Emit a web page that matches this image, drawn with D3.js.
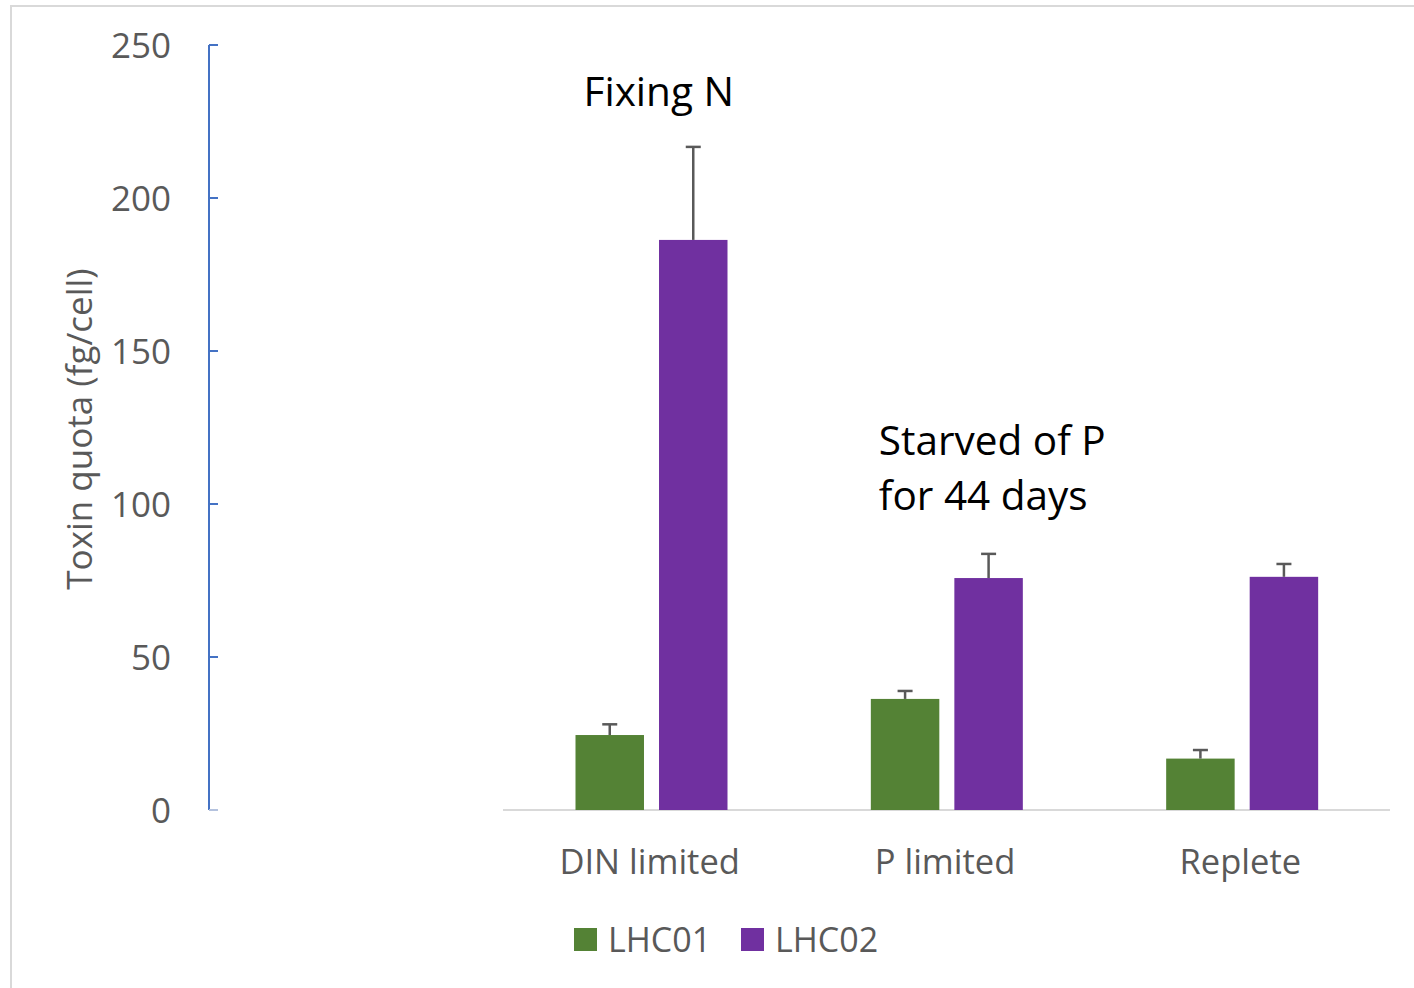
<!DOCTYPE html>
<html>
<head>
<meta charset="utf-8">
<script src="https://cdn.jsdelivr.net/npm/d3@7"></script>
<style>
  html, body { margin: 0; padding: 0; background: #fff; }
  svg { display: block; }
  text { font-family: "Open Sans", "Liberation Sans", sans-serif; }
</style>
</head>
<body>
<svg id="chart" width="1414" height="988"></svg>
<script>
// ---- data ----
const categories = ["DIN limited", "P limited", "Replete"];
const seriesNames = ["LHC01", "LHC02"];
const lhc01 = [24.5, 36.3, 16.8];
const lhc02 = [186.3, 75.8, 76.2];
const lhc01Err = [3.5, 2.6, 2.8];
const lhc02Err = [30.4, 7.9, 4.2];
const yTicks = [0, 50, 100, 150, 200, 250];
const yLabel = "Toxin quota (fg/cell)";
const annotations = [
  { lines: ["Fixing N"], category: "DIN limited", value: 230 },
  { lines: ["Starved of P", "for 44 days"], category: "P limited", value: 116 }
];

const colors = { LHC01: "#548235", LHC02: "#7030A0" };
const values = { LHC01: lhc01, LHC02: lhc02 };
const errors = { LHC01: lhc01Err, LHC02: lhc02Err };

const svg = d3.select("#chart");

// frame
svg.append("rect")
  .attr("x", 11).attr("y", 6).attr("width", 1412).attr("height", 1000)
  .attr("fill", "none").attr("stroke", "#d9d9d9").attr("stroke-width", 2);

const y = d3.scaleLinear().domain([0, 250]).range([810, 45]);
const x0 = d3.scaleBand().domain(categories).range([504, 1390]).paddingInner(0).paddingOuter(0);
const x1 = d3.scaleBand().domain(seriesNames).range([71.5, 223.5]).paddingInner(0.18).paddingOuter(0);

// y axis
const yAxisX = 209;
svg.append("line")
  .attr("x1", yAxisX).attr("x2", yAxisX)
  .attr("y1", y(250)).attr("y2", y(0))
  .attr("stroke", "#4472C4").attr("stroke-width", 2);
svg.append("g").selectAll("line").data(yTicks).join("line")
  .attr("x1", yAxisX).attr("x2", yAxisX + 9)
  .attr("y1", d => y(d)).attr("y2", d => y(d))
  .attr("stroke", d => d === 0 ? "#b4c2de" : "#4472C4").attr("stroke-width", 2);
svg.append("g").selectAll("text").data(yTicks).join("text")
  .attr("x", 171).attr("y", d => y(d))
  .attr("dy", "0.36em")
  .attr("text-anchor", "end")
  .attr("font-size", 35)
  .attr("fill", "#595959")
  .text(d => d);

// y label
svg.append("text")
  .attr("transform", `translate(78, 429) rotate(-90)`)
  .attr("text-anchor", "middle")
  .attr("dominant-baseline", "central")
  .attr("font-size", 35)
  .attr("fill", "#595959")
  .text(yLabel);

// baseline
svg.append("line")
  .attr("x1", 503).attr("x2", 1390)
  .attr("y1", y(0)).attr("y2", y(0))
  .attr("stroke", "#d9d9d9").attr("stroke-width", 2);

// bars
const groups = svg.append("g").selectAll("g").data(categories).join("g")
  .attr("transform", d => `translate(${x0(d)},0)`);

groups.each(function(cat, i) {
  const g = d3.select(this);
  seriesNames.forEach(s => {
    const v = values[s][i];
    g.append("rect")
      .attr("x", x1(s)).attr("width", x1.bandwidth())
      .attr("y", y(v)).attr("height", y(0) - y(v))
      .attr("fill", colors[s]);
  });
  seriesNames.forEach(s => {
    const v = values[s][i];
    const e = errors[s][i];
    const cx = x1(s) + x1.bandwidth() / 2;
    g.append("line")
      .attr("x1", cx).attr("x2", cx)
      .attr("y1", y(v)).attr("y2", y(v + e))
      .attr("stroke", "#595959").attr("stroke-width", 2.5);
    g.append("line")
      .attr("x1", cx - 7.5).attr("x2", cx + 7.5)
      .attr("y1", y(v + e)).attr("y2", y(v + e))
      .attr("stroke", "#595959").attr("stroke-width", 2.5);
  });
});

// x labels
svg.append("g").selectAll("text").data(categories).join("text")
  .attr("x", d => x0(d) + x0.bandwidth() / 2 - 2)
  .attr("y", 874)
  .attr("text-anchor", "middle")
  .attr("font-size", 34.5)
  .attr("fill", "#595959")
  .text(d => d);

// annotations
annotations.forEach(a => {
  const ax = x0(a.category) + x1("LHC01") + 8;
  const t = svg.append("text")
    .attr("x", ax)
    .attr("y", y(a.value))
    .attr("font-size", 40.5)
    .attr("fill", "#000");
  a.lines.forEach((ln, k) => {
    t.append("tspan")
      .attr("x", ax)
      .attr("dy", k === 0 ? 0 : 55)
      .text(ln);
  });
});

// legend
const legendX = [574, 741];
const legend = svg.append("g").selectAll("g").data(seriesNames).join("g")
  .attr("transform", (d, i) => `translate(${legendX[i]}, 928)`);
legend.append("rect")
  .attr("width", 23).attr("height", 23)
  .attr("fill", d => colors[d]);
legend.append("text")
  .attr("x", 34).attr("y", 24)
  .attr("font-size", 34)
  .attr("fill", "#595959")
  .text(d => d);
</script>
</body>
</html>
